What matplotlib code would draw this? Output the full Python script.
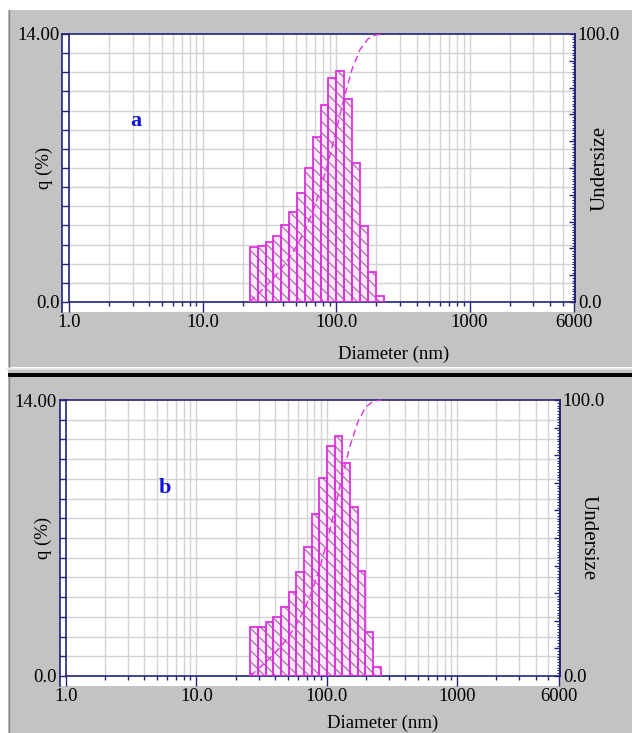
import numpy as np
import matplotlib
matplotlib.use("Agg")
import matplotlib.pyplot as plt
from matplotlib.patches import Rectangle
from matplotlib.lines import Line2D
from matplotlib.ticker import FixedLocator, NullFormatter, FixedFormatter

W, H = 632, 733

# size classes (nm) and frequency q (%) for the two samples
edges_a = [22.57, 25.85, 29.61, 33.91, 38.84, 44.48, 50.95, 58.36, 66.84, 76.56,
           87.69, 100.4, 115.0, 131.7, 150.9, 172.8, 197.9, 226.7]
q_a = [2.86, 2.93, 3.15, 3.45, 4.02, 4.68, 5.71, 6.98, 8.60, 10.29,
       11.72, 12.07, 10.59, 7.28, 3.99, 1.55, 0.33]

edges_b = [25.85, 29.61, 33.91, 38.84, 44.48, 50.95, 58.36, 66.84, 76.56, 87.69,
           100.4, 115.0, 131.7, 150.9, 172.8, 197.9, 226.7, 259.6]
q_b = [2.47, 2.50, 2.72, 3.01, 3.52, 4.25, 5.26, 6.56, 8.22, 10.03,
       11.67, 12.19, 10.82, 8.56, 5.33, 2.22, 0.47]

xticks = [1, 10, 100, 1000, 6000]
xticklabels = ["1.0", "10.0", "100.0", "1000", "6000"]

plt.rcParams['font.family'] = ['Liberation Serif', 'DejaVu Serif']
plt.rcParams['hatch.linewidth'] = 0.8

GRAY = '#c3c3c3'
NAVY = '#23237a'
MAG = '#e030e0'
HATCH = '#9a6898'
GRID = '#d2d2d2'
FS = 13.5

fig = plt.figure(figsize=(W / 100, H / 100), dpi=100)


def fx(x):
    return x / W


def fy(y):
    return 1 - y / H


def frect(x0, y0, x1, y1, **kw):
    fig.patches.append(Rectangle((fx(x0), fy(y1)), fx(x1) - fx(x0), fy(y0) - fy(y1),
                                 transform=fig.transFigure, **kw))


def fline(xs, ys, **kw):
    fig.lines.append(Line2D([fx(v) for v in xs], [fy(v) for v in ys],
                            transform=fig.transFigure, **kw))


def panel(box, frame, edges, q, letter, letter_xy, ylab_x, rlab_x, rlab_rot, xlab_xy):
    l, r, t, b = box
    fl, fb = frame
    # white plotting frame behind the axes
    frect(fl, t, r, fb, facecolor='white', edgecolor='none', zorder=-1)
    fline([fl, fl], [t, fb], color=NAVY, lw=1.2, zorder=5)
    fline([fl, l], [t, t], color=NAVY, lw=1.2, zorder=5)

    ax = fig.add_axes([fx(l), fy(b), fx(r) - fx(l), fy(t) - fy(b)])
    ax.set_facecolor('none')
    ax.set_xscale('log')
    ax.set_xlim(1, 6150)
    ax.set_ylim(0, 14)
    for s in ax.spines.values():
        s.set_color(NAVY)
        s.set_linewidth(1.2)

    ax.xaxis.set_major_locator(FixedLocator(xticks))
    ax.xaxis.set_major_formatter(FixedFormatter(xticklabels))
    minors = [m * 10 ** d for d in range(4) for m in range(2, 10) if m * 10 ** d < 6000]
    ax.xaxis.set_minor_locator(FixedLocator(minors))
    ax.xaxis.set_minor_formatter(NullFormatter())
    ax.tick_params(axis='x', which='major', direction='out', length=7.2, width=1,
                   color=NAVY, labelsize=FS, pad=1.5)
    ax.tick_params(axis='x', which='minor', direction='out', length=3, width=1, color=NAVY)

    ax.yaxis.set_major_locator(FixedLocator([0, 14]))
    ax.yaxis.set_major_formatter(FixedFormatter(["0.0", "14.00"]))
    ax.yaxis.set_minor_locator(FixedLocator(range(1, 14)))
    ax.tick_params(axis='y', which='both', direction='out', length=5, width=1,
                   color=NAVY, labelsize=FS, pad=1.5)

    # grid: every minor x class and every 1 % in y
    for v in minors + [10, 100, 1000]:
        ax.axvline(v, color=GRID, lw=1, zorder=0.5)
    for v in range(1, 14):
        ax.axhline(v, color=GRID, lw=1, zorder=0.5)

    widths = np.diff(edges)
    ax.bar(edges[:-1], q, width=widths, align='edge', facecolor='#fbeafb',
           edgecolor=HATCH, linewidth=0, hatch='\\\\\\', zorder=2)
    ax.bar(edges[:-1], q, width=widths, align='edge', fill=False,
           edgecolor=MAG, linewidth=1.3, zorder=3)

    ax2 = ax.twinx()
    ax2.set_ylim(0, 100)
    ax2.set_xlim(1, 6150)
    ax2.spines[:].set_visible(False)
    ax2.spines['right'].set_visible(True)
    ax2.spines['right'].set_color(NAVY)
    ax2.spines['right'].set_linewidth(1.2)
    ax2.yaxis.set_major_locator(FixedLocator(range(0, 101, 10)))
    ax2.yaxis.set_major_formatter(FixedFormatter(["0.0"] + [""] * 9 + ["100.0"]))
    ax2.yaxis.set_minor_locator(FixedLocator(range(0, 101)))
    ax2.tick_params(axis='y', which='major', direction='in', length=4, width=1,
                    color=NAVY, labelsize=FS, pad=2)
    ax2.tick_params(axis='y', which='minor', direction='in', length=2, width=0.8,
                    color=NAVY)

    cum = np.concatenate([[0], np.cumsum(q)])
    cum = np.clip(cum / cum[-1] * 100, 0, 100)
    ax2.plot(edges, cum, color=MAG, lw=1, ls=(0, (5, 3)), zorder=4, clip_on=False)

    fig.text(fx(ylab_x), fy((t + b) / 2), "q (%)", rotation=90, ha='center',
             va='center', fontsize=FS)
    fig.text(fx(rlab_x), fy((t + b) / 2), "Undersize", rotation=rlab_rot,
             ha='center', va='center', fontsize=15)
    fig.text(fx(xlab_xy[0]), fy(xlab_xy[1]), "Diameter (nm)", ha='center',
             va='center', fontsize=FS)
    fig.text(fx(letter_xy[0]), fy(letter_xy[1]), letter, color='#1010e0',
             fontsize=16, fontweight='bold', ha='center', va='center')
    return ax


# window backgrounds
frect(8, 10, W, 367, facecolor=GRAY, edgecolor='none', zorder=-2)
fline([8.5, 8.5], [10, 367], color='#8a8a8a', lw=1)
fline([8, W], [368.5, 368.5], color='#e6e6e6', lw=1.5)
frect(8, 369, W, 373, facecolor=GRAY, edgecolor='none', zorder=-2)
frect(8, 373, W, 377, facecolor='black', edgecolor='none', zorder=-2)
frect(8, 377, W, H, facecolor=GRAY, edgecolor='none', zorder=-2)
fline([8.5, 8.5], [377, H], color='#8a8a8a', lw=1)

panel((69, 575, 34, 302), (62, 312), edges_a, q_a, "a", (136, 121), 44, 600, 90, (394, 354))
panel((66, 560, 400, 676), (60, 686), edges_b, q_b, "b", (165, 488), 43, 588, 270, (383, 723))

fig.savefig("out.png", dpi=100)
